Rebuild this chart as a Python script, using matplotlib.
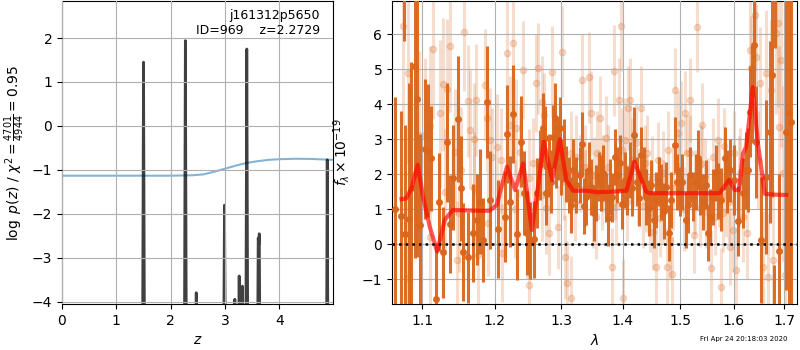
import numpy as np
import matplotlib
matplotlib.use("Agg")
import matplotlib.pyplot as plt
from matplotlib.ticker import FixedLocator, NullLocator, FixedFormatter

# redshift probability (tent-shaped peaks) and chi2 curve
pz_z = [0.0, 1.48, 1.50, 1.52, 2.25, 2.27, 2.29, 2.455, 2.47, 2.485,
        2.97, 2.99, 3.01, 3.165, 3.18, 3.195, 3.245, 3.26, 3.275, 3.305,
        3.32, 3.335, 3.38, 3.40, 3.42, 3.595, 3.61, 3.62, 3.63, 3.645,
        4.865, 4.88, 4.895, 5.0]
pz_log = [-6, -6, 1.45, -6, -6, 1.94, -6, -6, -3.79, -6,
          -6, -1.80, -6, -6, -3.94, -6, -6, -3.41, -6, -6,
          -3.64, -6, -6, 1.75, -6, -6, -2.55, -2.7, -2.45, -6,
          -6, -0.77, -6, -6]

chi_z = [0.0, 1.0, 2.0, 2.4, 2.6, 2.8, 3.0, 3.2, 3.4, 3.6, 3.8, 4.0, 4.3, 4.6, 5.0]
chi_y = [-1.13, -1.13, -1.13, -1.12, -1.10, -1.04, -0.97, -0.90, -0.84, -0.80,
         -0.77, -0.755, -0.745, -0.75, -0.77]

# binned 1D spectrum
dark_wave = [1.064, 1.072, 1.0757, 1.078, 1.0825, 1.0847, 1.0904, 1.0934, 1.0969, 1.1035,
             1.1071, 1.1115, 1.1178, 1.1227, 1.1281, 1.1335, 1.1372, 1.1408, 1.1486, 1.1523,
             1.1556, 1.1625, 1.1686, 1.1751, 1.1790, 1.1828, 1.1884, 1.1932, 1.2052, 1.2150,
             1.2185, 1.2225, 1.2274, 1.2324, 1.2385, 1.2432, 1.2482, 1.2522, 1.2580, 1.2621,
             1.2672, 1.2712, 1.2748, 1.2773, 1.2814, 1.2850, 1.2875, 1.2911, 1.2927, 1.2953,
             1.2979, 1.3005, 1.3041, 1.3083, 1.3125, 1.3162, 1.3188, 1.3241, 1.3294, 1.3326,
             1.3363, 1.3401, 1.3444, 1.3482, 1.3525, 1.3563, 1.3607, 1.3634, 1.3673, 1.3717,
             1.3756, 1.3794, 1.3828, 1.3866, 1.3905, 1.3950, 1.3994, 1.4034, 1.4073, 1.4118,
             1.4163, 1.4197, 1.4243, 1.4277, 1.4317, 1.4357, 1.4403, 1.4449, 1.4489, 1.4530,
             1.4578, 1.4624, 1.4665, 1.4706, 1.4754, 1.4801, 1.4842, 1.4903, 1.4945, 1.4993,
             1.5041, 1.5101, 1.5144, 1.5186, 1.5235, 1.5284, 1.5327, 1.5370, 1.5419, 1.5468,
             1.5512, 1.5555, 1.5605, 1.5655, 1.5699, 1.5762, 1.5826, 1.5870, 1.5921, 1.5998,
             1.6081, 1.6178, 1.6230, 1.6276, 1.6308, 1.6354, 1.6393, 1.6440, 1.6538, 1.6638,
             1.6705, 1.6758, 1.6790, 1.6823, 1.6890, 1.7044, 1.7099, 1.7134]
dark_flux = [1.0, 0.8, 8.2, 0.3, 0.71, 1.60, 5.10, 4.15, 0.55, 2.72,
             2.68, 2.46, -1.56, 1.22, -0.23, 2.91, 0.58, 1.90, 3.58, 1.60,
             -0.21, -0.37, 0.31, 0.70, 1.22, 0.12, 4.08, 1.27, 0.43, 0.79,
             3.14, 1.22, 3.71, 0.29, 2.93, 1.46, 0.31, 0.12, 0.14, 1.48,
             2.27, 3.33, 3.05, 1.46, 2.25, 1.79, 3.08, 3.60, 2.50, 2.74,
             3.31, 2.22, 2.68, 2.01, 1.70, 1.12, 2.12, 1.70, 1.98, 2.87,
             1.10, 1.36, 2.12, 1.65, 0.90, 1.46, 1.93, 1.76, 2.03, 1.34,
             0.74, 1.65, 1.34, 2.50, 1.98, 2.31, 1.15, 1.84, 1.55, 2.12,
             1.60, 3.12, 1.79, 1.31, 2.55, 2.08, 1.34, 1.03, 1.70, 0.70,
             1.27, 1.79, 1.50, 0.96, 1.65, 0.31, 1.27, 2.84, 1.79, 1.50,
             1.79, 0.70, 1.12, 1.98, 1.36, 1.79, 2.46, 1.63, 1.22, 1.70,
             0.31, 0.79, 1.36, 2.03, 1.53, 1.27, 2.46, 1.79, 2.12, 1.84,
             0.68, 1.46, 2.12, 2.12, 3.79, 4.30, 5.70, 2.93, 0.12, 1.91,
             3.22, 4.84, -2.6, 8.5, -0.19, 3.20, 3.74, 3.5]
dark_err = [3.2, 3.0, 2.4, 3.1, 3.9, 3.6, 5.5, 4.5, 2.6, 2.0,
            1.9, 1.5, 1.6, 1.4, 1.3, 1.7, 1.4, 1.5, 1.8, 1.5,
            1.4, 1.3, 1.4, 1.3, 1.5, 1.2, 1.6, 1.4, 1.4, 1.3,
            1.4, 1.3, 1.4, 1.3, 1.3, 1.2, 1.2, 1.1, 1.1, 1.0,
            1.0, 1.0, 0.9, 0.9, 0.9, 0.9, 0.9, 1.0, 0.9, 0.9,
            0.9, 0.8, 0.9, 0.8, 0.8, 0.8, 0.9, 0.8, 0.8, 0.9,
            0.8, 0.8, 0.8, 0.8, 0.8, 0.8, 0.7, 0.8, 0.8, 0.7,
            0.8, 0.8, 0.7, 0.8, 0.8, 0.8, 0.7, 0.8, 0.7, 0.8,
            0.8, 0.8, 0.7, 0.8, 0.8, 0.7, 0.8, 0.8, 0.7, 0.8,
            0.8, 0.7, 0.8, 0.8, 0.7, 0.8, 0.8, 0.8, 0.8, 0.7,
            0.8, 0.8, 0.8, 0.8, 0.7, 0.8, 0.8, 0.8, 0.8, 0.7,
            0.8, 0.8, 0.8, 0.8, 0.8, 0.9, 0.9, 0.9, 0.9, 1.0,
            1.0, 1.0, 1.1, 1.2, 1.3, 1.4, 1.5, 1.6, 1.8, 2.2,
            2.6, 3.5, 2.0, 2.9, 2.2, 4.5, 6.0, 6.0]

# unbinned spectrum pixels (drawn faint)
light_wave = [1.0752, 1.0816, 1.0803, 1.0956, 1.1035, 1.1102, 1.1146, 1.1237, 1.1281, 1.1335,
              1.1372, 1.1440, 1.1464, 1.1518, 1.1565, 1.1616, 1.1649, 1.1705, 1.1741, 1.1765,
              1.1861, 1.1884, 1.1932, 1.1956, 1.2028, 1.2101, 1.2175, 1.2225, 1.2274, 1.2313,
              1.2373, 1.2422, 1.2472, 1.2512, 1.2570, 1.2611, 1.2646, 1.2697, 1.2733, 1.2773,
              1.2814, 1.2865, 1.2901, 1.2953, 1.3020, 1.3057, 1.3094, 1.3162, 1.3241, 1.3294,
              1.3331, 1.3374, 1.3444, 1.3482, 1.3520, 1.3563, 1.3618, 1.3673, 1.3728, 1.3828,
              1.3855, 1.3894, 1.3939, 1.3966, 1.4006, 1.4034, 1.4090, 1.4129, 1.4175, 1.4260,
              1.4317, 1.4374, 1.4403, 1.4460, 1.4518, 1.4578, 1.4636, 1.4695, 1.4765, 1.4813,
              1.4860, 1.4903, 1.4963, 1.5023, 1.5083, 1.5131, 1.5174, 1.5247, 1.5308, 1.5357,
              1.5407, 1.5450, 1.5512, 1.5574, 1.5636, 1.5699, 1.5749, 1.5794, 1.5857, 1.5921,
              1.5985, 1.6049, 1.6127, 1.6178, 1.6256, 1.6308, 1.6341, 1.6406, 1.6440, 1.6472,
              1.6518, 1.6572, 1.6625, 1.6671, 1.6738, 1.6772, 1.6826, 1.6873, 1.6893, 1.6941,
              1.6975, 1.7023,
              1.305, 1.315, 1.322, 1.338, 1.350, 1.358, 1.366, 1.375, 1.387, 1.398,
              1.408, 1.415, 1.422, 1.434, 1.442, 1.450, 1.460, 1.470, 1.478, 1.488,
              1.498, 1.507, 1.518, 1.527, 1.538, 1.548, 1.560, 1.571, 1.582, 1.590,
              1.600, 1.610, 1.27, 1.25, 1.23, 1.21, 1.19, 1.17, 1.15, 1.13,
              1.11, 1.09]
light_flux = [6.24, 4.90, -0.95, 3.12, 3.12, 3.38, 5.57, 3.74, 4.57, 4.43,
              5.67, 2.65, -0.45, 2.12, 6.08, 4.10, 3.27, 3.00, 4.12, -0.30,
              4.55, 3.60, 2.98, 2.50, 2.79, -0.26, 5.46, 3.41, 5.74, 3.31,
              2.65, 4.98, 0.31, -1.16, 2.31, 4.60, 5.03, 4.08, 3.70, 1.03,
              0.31, 4.93, 3.08, 0.50, 5.50, -0.35, -1.11, -1.54, 2.50, 2.03,
              4.70, 1.60, 4.77, 3.74, 1.98, 0.79, 3.60, 2.03, 3.03, -0.64,
              4.96, 1.08, 4.12, 6.24, -1.52, 2.98, 3.89, 4.12, 2.17, 1.65,
              3.89, 2.31, 1.46, 0.89, 0.36, -0.64, 0.74, 2.03, -0.64, 0.12,
              -0.85, 4.41, 3.17, 3.46, 3.74, 2.60, 4.12, 0.27, 6.22, 1.03,
              3.41, 1.93, 1.36, -0.69, 0.79, 2.98, -1.21, 0.89, 1.41, -0.07,
              0.41, -0.73, 2.03, 0.79, 0.31, 5.55, 5.03, 6.55, 5.36, 2.41,
              4.60, -0.64, 4.89, -0.92, 4.41, -0.45, 6.03, 6.31, 3.36, 5.27,
              2.03, -0.88,
              1.8, 2.6, 1.2, 2.2, 1.0, 2.6, 1.5, 2.2, 1.8, 2.7,
              1.2, 2.4, 2.9, 1.1, 2.6, 1.9, 2.4, 1.2, 2.7, 1.6,
              2.2, 1.0, 2.6, 1.5, 2.3, 1.1, 2.5, 1.7, 2.8, 1.2,
              2.6, 1.8, 1.4, 1.9, 1.0, 2.4, 0.6, 1.6, 0.9, 1.5,
              0.2, 2.0]
light_err = [2.8, 2.6, 2.5, 2.4, 2.2, 2.3, 2.0, 2.1, 1.9, 2.0,
             1.9, 1.8, 1.7, 1.8, 1.7, 1.6, 1.7, 1.6, 1.6, 1.5,
             1.6, 1.5, 1.5, 1.4, 1.5, 1.4, 1.5, 1.4, 1.5, 1.4,
             1.3, 1.4, 1.3, 1.3, 1.3, 1.4, 1.3, 1.3, 1.2, 1.3,
             1.2, 1.3, 1.2, 1.2, 1.3, 1.2, 1.2, 1.2, 1.2, 1.1,
             1.3, 1.1, 1.3, 1.2, 1.1, 1.2, 1.2, 1.1, 1.2, 1.1,
             1.3, 1.1, 1.2, 1.3, 1.1, 1.2, 1.2, 1.2, 1.1, 1.1,
             1.2, 1.1, 1.1, 1.1, 1.1, 1.1, 1.1, 1.2, 1.1, 1.1,
             1.1, 1.2, 1.2, 1.2, 1.2, 1.1, 1.2, 1.1, 1.3, 1.1,
             1.2, 1.1, 1.1, 1.1, 1.1, 1.2, 1.1, 1.1, 1.2, 1.1,
             1.2, 1.2, 1.3, 1.3, 1.3, 1.5, 1.5, 1.6, 1.5, 1.4,
             1.6, 1.6, 1.8, 1.8, 2.0, 2.0, 2.3, 2.4, 2.3, 2.5,
             2.5, 2.6,
             1.1, 1.2, 1.1, 1.2, 1.1, 1.2, 1.1, 1.2, 1.1, 1.2,
             1.1, 1.2, 1.1, 1.2, 1.1, 1.2, 1.1, 1.2, 1.1, 1.2,
             1.1, 1.2, 1.1, 1.2, 1.1, 1.2, 1.1, 1.2, 1.1, 1.2,
             1.2, 1.3, 1.3, 1.4, 1.4, 1.5, 1.5, 1.6, 1.7, 1.8,
             2.0, 2.2]

# best-fit model at z=2.2729
model_wave = [1.073, 1.079, 1.086, 1.094, 1.101, 1.110, 1.120, 1.130, 1.141, 1.160,
              1.180, 1.193, 1.203, 1.218, 1.230, 1.242, 1.255, 1.265, 1.273, 1.286,
              1.298, 1.308, 1.319, 1.340, 1.357, 1.380, 1.406, 1.420, 1.440, 1.446,
              1.500, 1.573, 1.591, 1.602, 1.610, 1.618, 1.624, 1.637, 1.647, 1.661,
              1.680, 1.704]
model_flux = [1.29, 1.31, 1.60, 2.27, 1.36, 0.50, -0.21, 0.69, 0.98, 0.97,
              0.96, 0.96, 1.12, 2.22, 1.55, 2.31, 0.41, 1.74, 2.93, 1.84,
              3.00, 1.84, 1.53, 1.53, 1.49, 1.50, 1.53, 2.36, 1.50, 1.46,
              1.46, 1.46, 1.84, 1.55, 1.55, 2.60, 2.79, 4.49, 2.89, 1.44,
              1.42, 1.41]

wave_ticks = [1.1, 1.2, 1.3, 1.4, 1.5, 1.6, 1.7]
orange = '#d9661c'

fig = plt.figure(figsize=(8, 3.5), dpi=100)

# p(z) panel
ax = fig.add_axes([0.0775, 0.131, 0.339, 0.866])
ax.plot(chi_z, chi_y, color='tab:blue', alpha=0.55, lw=1.5)
ax.plot(pz_z, pz_log, color='k', alpha=0.75, lw=2)
ax.set_xlim(0, 4.99)
ax.set_ylim(-4.05, 2.84)
ax.set_xticks([0, 1, 2, 3, 4])
ax.set_yticks([-4, -3, -2, -1, 0, 1, 2])
ax.set_axisbelow(False)
ax.grid()
ax.set_xlabel('$z$')
ax.set_ylabel(r'$\log\ p(z)$' + ' / ' + r'$\chi^2=\frac{4701}{4944}=0.95$')
ax.yaxis.set_label_coords(-0.13, 0.5)
ax.text(0.95, 0.975, 'j161312p5650\nID=969    z=2.2729', ha='right', va='top',
        fontsize=9, transform=ax.transAxes)

# spectrum panel
ax2 = fig.add_axes([0.49, 0.131, 0.506, 0.866])
ax2.errorbar(light_wave, light_flux, yerr=light_err, fmt='o', color=orange,
             alpha=0.22, ms=4.5, lw=2.2, zorder=2)
ax2.errorbar(dark_wave, dark_flux, yerr=dark_err, fmt='o', color=orange,
             alpha=0.95, ms=4, lw=2.2, zorder=3)
ax2.plot(model_wave, model_flux, color='red', alpha=0.65, lw=3, zorder=4)
ax2.axhline(0, color='k', ls=':', lw=1.8, zorder=5)

ax2.set_xscale('log')
ax2.set_xlim(1.0607, 1.726)
ax2.set_ylim(-1.71, 6.95)
ax2.xaxis.set_major_locator(FixedLocator(wave_ticks))
ax2.xaxis.set_major_formatter(FixedFormatter([str(w) for w in wave_ticks]))
ax2.xaxis.set_minor_locator(NullLocator())
ax2.set_yticks([-1, 0, 1, 2, 3, 4, 5, 6])
ax2.set_axisbelow(False)
ax2.grid()
ax2.set_xlabel(r'$\lambda$')
ax2.set_ylabel(r'$f_\lambda\times10^{-19}$')
ax2.yaxis.set_label_coords(-0.10, 0.5)

fig.text(0.984, 0.031, 'Fri Apr 24 20:18:03 2020', ha='right', va='center', fontsize=5)

plt.savefig('out.png', dpi=100)
